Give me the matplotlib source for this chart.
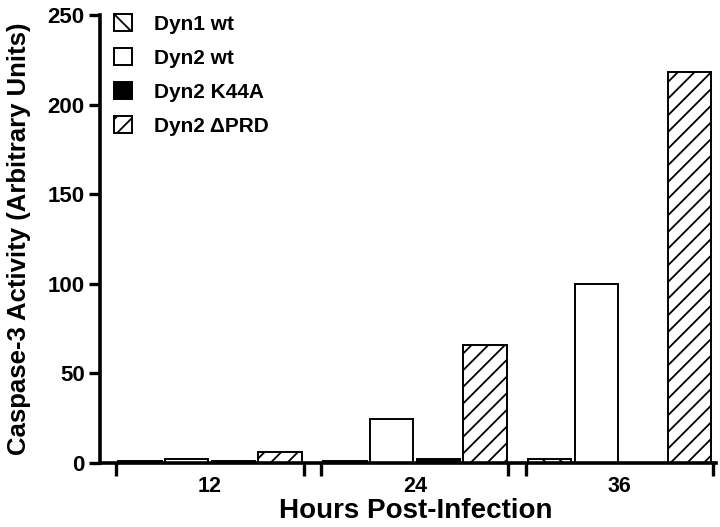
import matplotlib
matplotlib.use("Agg")
import matplotlib.pyplot as plt
import numpy as np

categories = ["12", "24", "36"]
series_names = ["Dyn1 wt", "Dyn2 wt", "Dyn2 K44A", "Dyn2 \u0394PRD"]
dyn1_wt = [1, 1, 2]
dyn2_wt = [2, 24.5, 100]
dyn2_k44a = [1.2, 2, 0]
dyn2_dprd = [6, 66, 218]
y_ticks = [0, 50, 100, 150, 200, 250]

plt.rcParams['font.family'] = ['Liberation Sans', 'DejaVu Sans']
plt.rcParams['font.weight'] = 'bold'
plt.rcParams['hatch.linewidth'] = 1.3

fig = plt.figure(figsize=(7.2, 5.27), dpi=100)
ax = fig.add_axes([100/720, 1 - 463/527, 616/720, 448/527])

x = np.arange(len(categories))
slot = 0.228
width = 0.212
values = [dyn1_wt, dyn2_wt, dyn2_k44a, dyn2_dprd]
faces = ["white", "white", "black", "white"]
hatches = ["\\\\", None, None, "//"]
handles = []
for i, (vals, fc, h, name) in enumerate(zip(values, faces, hatches, series_names)):
    b = ax.bar(x + (i - 1.5) * slot, vals, width, color=fc, edgecolor="black",
               linewidth=1.4, hatch=h, label=name, zorder=2)
    handles.append(b)

ax.set_xlim(-0.537, 2.47)
ax.set_ylim(0, 250)
ax.set_yticks(y_ticks)
ax.set_yticklabels([str(t) for t in y_ticks], fontsize=16, fontweight='bold')
ax.set_xticks(x)
ax.set_xticklabels(categories, fontsize=15.5, fontweight='bold')
ax.tick_params(axis='x', which='major', length=0, pad=9)
edges = []
for c in x:
    edges += [c - 0.457, c + 0.457]
ax.set_xticks(edges, minor=True)
ax.tick_params(axis='x', which='minor', length=9, width=2.4, direction='out')
ax.tick_params(axis='y', length=8, width=2.4, direction='out', pad=3)

for s in ['top', 'right']:
    ax.spines[s].set_visible(False)
for s in ['left', 'bottom']:
    ax.spines[s].set_linewidth(2.6)

ax.set_xlabel("Hours Post-Infection", fontsize=20, fontweight='bold')
ax.xaxis.set_label_coords(0.513, -0.078)
ax.set_ylabel("Caspase-3 Activity (Arbitrary Units)", fontsize=18.5, fontweight='bold')
ax.yaxis.set_label_coords(-0.112, 0.5)

leg = fig.legend(handles=handles, labels=series_names, loc='upper left',
                 bbox_to_anchor=(114/720, 1 - 14/527), frameon=False,
                 fontsize=15, handlelength=0.85, handleheight=0.85,
                 handletextpad=1.05, labelspacing=0.7, borderpad=0, borderaxespad=0)
for t in leg.get_texts():
    t.set_fontweight('bold')

fig.savefig("out.png", dpi=100)
